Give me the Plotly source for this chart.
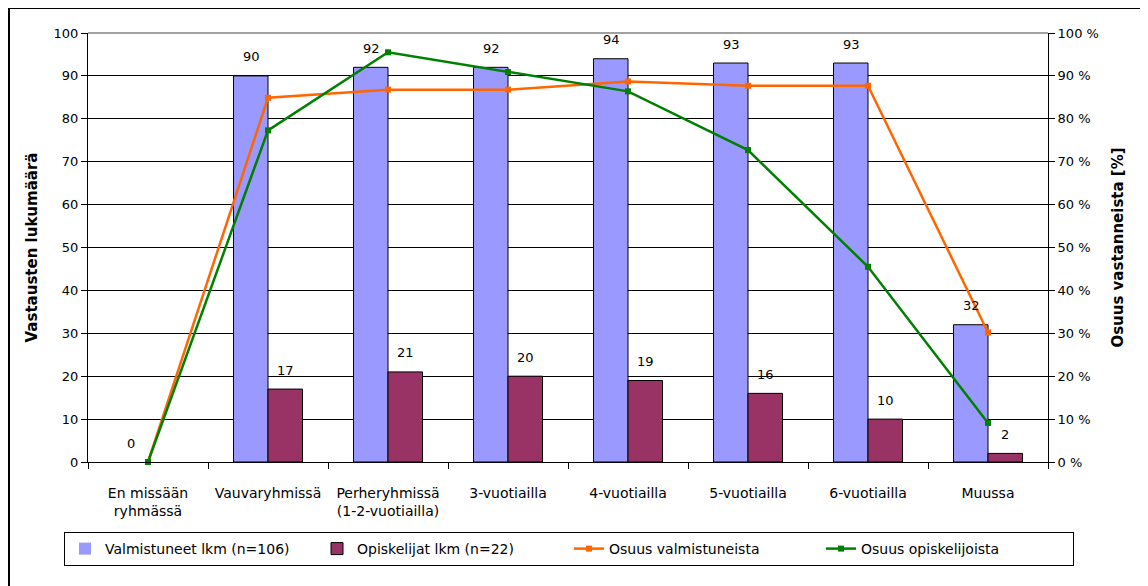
import plotly.graph_objects as go

categories = ["En missään<br>ryhmässä", "Vauvaryhmissä", "Perheryhmissä<br>(1-2-vuotiailla)",
              "3-vuotiailla", "4-vuotiailla", "5-vuotiailla", "6-vuotiailla", "Muussa"]
valmistuneet = [0, 90, 92, 92, 94, 93, 93, 32]
opiskelijat = [None, 17, 21, 20, 19, 16, 10, 2]
osuus_valmistuneista = [0, 84.9, 86.8, 86.8, 88.7, 87.7, 87.7, 30.2]
osuus_opiskelijoista = [0, 77.3, 95.5, 90.9, 86.4, 72.7, 45.5, 9.1]

FONT = "DejaVu Sans"

fig = go.Figure()
fig.add_trace(go.Bar(
    x=categories, y=valmistuneet, name="Valmistuneet lkm (n=106)",
    marker=dict(color="#9999FF",
                line=dict(color="black", width=[0 if v == 0 else 1 for v in valmistuneet])),
))
fig.add_trace(go.Bar(
    x=categories, y=opiskelijat, name="Opiskelijat lkm (n=22)",
    marker=dict(color="#993366", line=dict(color="black", width=1)),
))
fig.add_trace(go.Scatter(
    x=categories, y=osuus_valmistuneista, name="Osuus valmistuneista", yaxis="y2",
    mode="lines+markers", line=dict(color="#FF6600", width=2.5),
    marker=dict(symbol="square", size=6, color="#FF6600"), cliponaxis=False,
))
fig.add_trace(go.Scatter(
    x=categories, y=osuus_opiskelijoista, name="Osuus opiskelijoista", yaxis="y2",
    mode="lines+markers", line=dict(color="#008000", width=2.5),
    marker=dict(symbol="square", size=6, color="#008000"), cliponaxis=False,
))

# value labels above bars
annotations = []
for series, shift in ((valmistuneet, -17), (opiskelijat, 17)):
    for c, v in zip(categories, series):
        if v is None:
            continue
        annotations.append(dict(
            x=c, y=v, xref="x", yref="y", text=str(v), showarrow=False,
            xshift=shift, yshift=19, font=dict(family=FONT, size=13, color="black"),
        ))

OFF = 8  # page body margin
W, H = 1148 - OFF, 586 - OFF
L, T = 88 - OFF, 33 - OFF
R, B = 1148 - 1048, 586 - 462
pw, ph = W - L - R, H - T - B

fig.update_layout(
    width=W, height=H,
    margin=dict(l=L, r=R, t=T, b=B),
    paper_bgcolor="white", plot_bgcolor="white",
    font=dict(family=FONT, size=13, color="black"),
    barmode="group", bargap=0.425, bargroupgap=0,
    annotations=annotations,
    xaxis=dict(
        showline=True, linecolor="black", linewidth=1,
        ticks="outside", tickson="boundaries", ticklen=6, tickcolor="black",
        ticklabelstandoff=18, showgrid=False,
        tickfont=dict(family=FONT, size=14),
    ),
    yaxis=dict(
        range=[0, 100], dtick=10, showgrid=True, gridcolor="black", gridwidth=1,
        showline=True, linecolor="black", linewidth=1,
        ticks="outside", ticklen=6, tickcolor="black", zeroline=False,
        tickfont=dict(family=FONT, size=13),
        title=dict(text="<b>Vastausten lukumäärä</b>", font=dict(family=FONT, size=15), standoff=12),
    ),
    yaxis2=dict(
        range=[0, 100], dtick=10, overlaying="y", side="right", showgrid=False,
        showline=True, linecolor="black", linewidth=1, ticksuffix=" %",
        ticks="outside", ticklen=6, tickcolor="black", zeroline=False,
        tickfont=dict(family=FONT, size=13),
        title=dict(text="<b>Osuus vastanneista [%]</b>", font=dict(family=FONT, size=15), standoff=14),
    ),
    legend=dict(
        orientation="h", x=(64 - 88) / pw, y=(462 - 532) / ph, xanchor="left", yanchor="top",
        bordercolor="black", borderwidth=1, bgcolor="white",
        font=dict(family=FONT, size=14), entrywidth=207, entrywidthmode="pixels",
        traceorder="normal",
    ),
    showlegend=True,
    shapes=[
        dict(type="line", xref="paper", yref="paper", x0=0, x1=1, y0=1, y1=1,
             line=dict(color="#A0A0A0", width=2), layer="below"),
        dict(type="rect", xref="paper", yref="paper",
             x0=(9 - 88) / pw, x1=(1147 - 88) / pw, y0=(462 - 620) / ph, y1=(462 - 8) / ph,
             line=dict(color="black", width=2), layer="below"),
    ],
)

fig.write_html("out.html")
